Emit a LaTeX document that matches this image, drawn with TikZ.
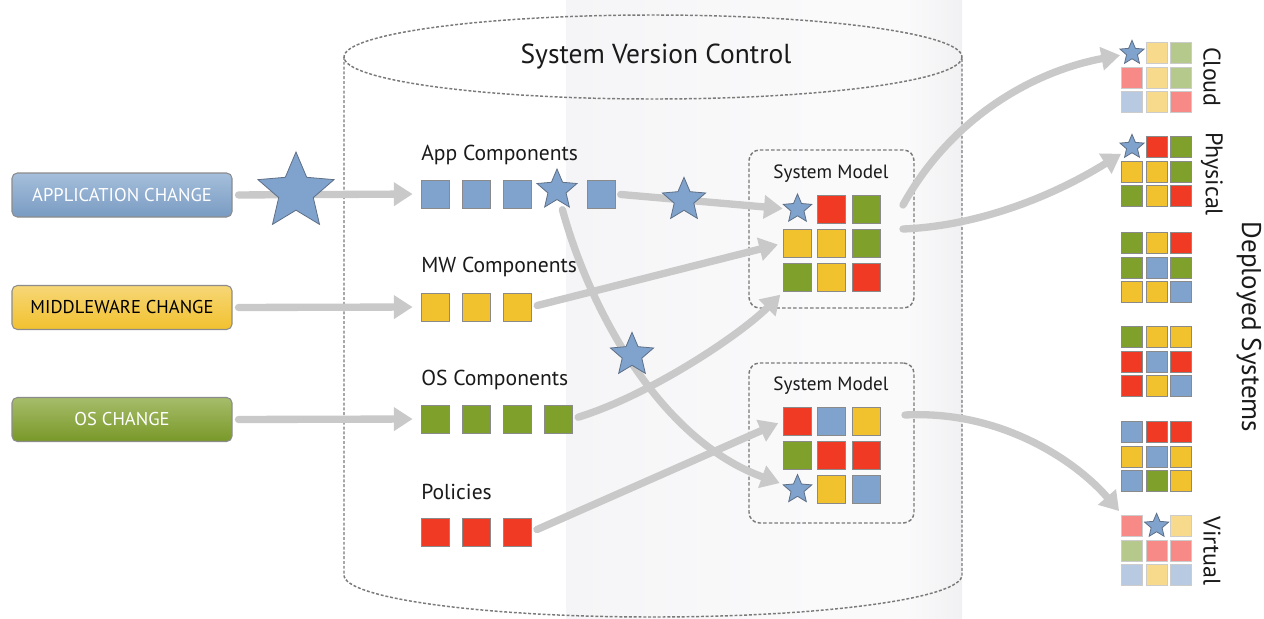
\documentclass[tikz,border=0pt]{standalone}
\usepackage{fontspec}
\setmainfont{PT Sans}
\usetikzlibrary{shapes.geometric,arrows.meta}

% palette
\definecolor{ink}{HTML}{1A1A1A}
\definecolor{cblue}{HTML}{7FA3CC}
\definecolor{cyel}{HTML}{F2C12E}
\definecolor{cgrn}{HTML}{7FA02A}
\definecolor{cred}{HTML}{F03A23}
\definecolor{lred}{HTML}{F78A86}
\definecolor{lyel}{HTML}{F7DA8C}
\definecolor{lgrn}{HTML}{B5C98C}
\definecolor{lblu}{HTML}{B8CAE2}
\definecolor{arrowgray}{HTML}{C9C9C9}
\definecolor{dashgray}{HTML}{7A7A7A}
\definecolor{stardraw}{HTML}{5E6F87}
\definecolor{celldraw}{HTML}{8A8A8A}
\definecolor{btnedge}{HTML}{8C8C8C}
\definecolor{bandA}{HTML}{F5F5F7}
\definecolor{bandB}{HTML}{FAFAFB}
\definecolor{bandC}{HTML}{F1F1F3}

\pgfdeclarehorizontalshading{cylband}{100bp}{color(0bp)=(bandA); color(25bp)=(bandA);
  color(58bp)=(bandB); color(68bp)=(bandB); color(75bp)=(bandC); color(100bp)=(bandC)}

\tikzset{
  gstar/.style={star, star points=5, star point ratio=2.2, fill=cblue, draw=stardraw,
    line width=0.6pt, inner sep=0pt},
  cell/.style={draw=celldraw, line width=0.6pt, minimum size=21pt, inner sep=0pt},
  cellstar/.style={gstar, minimum size=22.5pt},
  dcell/.style={cell, minimum size=15.75pt},
  dcellstar/.style={gstar, minimum size=19pt},
  fcell/.style={dcell, draw=black!20},
  fcellstar/.style={dcellstar},
  flow/.style={draw=arrowgray, line width=5.5pt, line cap=round,
    -{Triangle[length=14pt,width=17pt]}},
  btn/.style={rounded corners=4pt, draw=btnedge, line width=0.8pt, minimum width=165pt,
    minimum height=33pt, font=\fontsize{13.9}{15}\selectfont},
  cyl/.style={draw=dashgray, line width=1.1pt, dash pattern=on 2.2pt off 1.4pt},
  modelbox/.style={draw=dashgray, line width=1.1pt, dash pattern=on 2.6pt off 1.6pt,
    rounded corners=8pt, minimum width=123.75pt},
  complabel/.style={anchor=west, inner sep=0pt, text=ink, font=\fontsize{16.2}{18}\selectfont},
  modellabel/.style={inner sep=0pt, text=ink, font=\fontsize{14.4}{16}\selectfont},
  sidelabel/.style={rotate=-90, inner sep=0pt, text=ink, font=\fontsize{18}{20}\selectfont},
}

% 3x3 grid of cells: name, x, y of first cell centre, pitch, cell style, colours
\def\starkey{st}
\newcommand\cellgrid[6]{%
  \foreach \cc [count=\ii from 0] in {#6} {
    \pgfmathtruncatemacro\rowi{\ii/3}
    \pgfmathtruncatemacro\coli{mod(\ii,3)}
    \ifx\cc\starkey
      \node[#5star] (#1-\ii) at ({#2+\coli*#4},{#3+\rowi*#4}) {};
    \else
      \node[#5, fill=\cc] (#1-\ii) at ({#2+\coli*#4},{#3+\rowi*#4}) {};
    \fi
  }}

\begin{document}
\begin{tikzpicture}[x=0.75pt, y=-0.75pt]
\useasboundingbox (0,0) rectangle (1264,618);
\fill[white] (0,0) rectangle (1264,618);

% shaded band across the right half of the repository
\shade[shading=cylband] (566,0) rectangle (962,618);

% repository cylinder
\draw[cyl] (653,57) ellipse [x radius=309, y radius=42];
\draw[cyl] (344,57) -- (344,575)
  .. controls (344,598.2) and (482.3,617) .. (653,617)
  .. controls (823.7,617) and (962,598.2) .. (962,575) -- (962,57);
\node[inner sep=0pt, text=ink, font=\fontsize{20.6}{22}\selectfont] (title) at (656,57) {System Version Control};

% change requests
\node[btn, top color=cblue!70!white, bottom color=cblue!95!black, text=white] (btnApp) at (122,195) {APPLICATION CHANGE};
\node[btn, top color=cyel!65!white, bottom color=cyel, text=black] (btnMW) at (122,307.5) {MIDDLEWARE CHANGE};
\node[btn, top color=cgrn!70!white, bottom color=cgrn!95!black, text=white] (btnOS) at (122,419.5) {OS CHANGE};

% component rows
\node[complabel] (lblApp) at (421,155) {App Components};
\node[complabel] (lblMW) at (421,267) {MW Components};
\node[complabel] (lblOS) at (421,380) {OS Components};
\node[complabel] (lblPol) at (421,492) {Policies};

\node[cell, fill=cblue] (app-1) at (435,194) {};
\node[cell, fill=cblue] (app-2) at (476,194) {};
\node[cell, fill=cblue] (app-3) at (517,194) {};
\node[cell, fill=cblue] (app-5) at (601,194) {};
\node[cell, fill=cyel] (mw-1) at (435,307) {};
\node[cell, fill=cyel] (mw-2) at (476,307) {};
\node[cell, fill=cyel] (mw-3) at (517,307) {};
\node[cell, fill=cgrn] (os-1) at (435,419) {};
\node[cell, fill=cgrn] (os-2) at (476,419) {};
\node[cell, fill=cgrn] (os-3) at (517,419) {};
\node[cell, fill=cgrn] (os-4) at (558,419) {};
\node[cell, fill=cred] (pol-1) at (435,532) {};
\node[cell, fill=cred] (pol-2) at (476,532) {};
\node[cell, fill=cred] (pol-3) at (517,532) {};

% system models
\node[modelbox, minimum height=118.5pt] (box1) at (831.5,229) {};
\node[modelbox, minimum height=120pt] (box2) at (831.5,443) {};
\node[modellabel] (lblBox1) at (831,174) {System Model};
\node[modellabel] (lblBox2) at (831,386) {System Model};
\cellgrid{b1}{797.5}{209}{34.25}{cell}{st,cred,cgrn,cyel,cyel,cgrn,cgrn,cyel,cred}
\cellgrid{b2}{797.5}{421}{34.25}{cell}{cred,cblue,cyel,cgrn,cred,cred,st,cyel,cblue}

% deployed systems
\cellgrid{cl}{1132}{53}{24.6}{fcell}{st,lyel,lgrn,lred,lyel,lgrn,lblu,lyel,lred}
\cellgrid{ph}{1132}{147}{24.6}{dcell}{st,cred,cgrn,cyel,cyel,cgrn,cgrn,cyel,cred}
\cellgrid{d3}{1132}{243}{24.6}{dcell}{cgrn,cyel,cred,cgrn,cblue,cgrn,cyel,cyel,cblue}
\cellgrid{d4}{1132}{337}{24.6}{dcell}{cgrn,cyel,cyel,cred,cblue,cred,cred,cyel,cblue}
\cellgrid{d5}{1132}{432}{24.6}{dcell}{cblue,cred,cred,cyel,cblue,cyel,cblue,cgrn,cyel}
\cellgrid{vi}{1132}{526}{24.6}{fcell}{lred,st,lyel,lgrn,lred,lred,lblu,lyel,lblu}

\node[sidelabel] (lblCloud) at (1212,77) {Cloud};
\node[sidelabel] (lblPhys) at (1212,174) {Physical};
\node[sidelabel] (lblVirt) at (1212,551) {Virtual};
\node[sidelabel, font=\fontsize{20.3}{22}\selectfont] (lblDep) at (1249,327) {Deployed Systems};

% flows into the repository
\draw[flow, shorten <=4.5pt, shorten >=6pt] (btnApp.east) -- (app-1.west);
\draw[flow, shorten <=4.5pt, shorten >=6pt] (btnMW.east) -- (mw-1.west);
\draw[flow, shorten <=4.5pt, shorten >=6pt] (btnOS.east) -- (os-1.west);

% flows into the system models
\node[gstar, minimum size=31.5pt] (appStar) at (557,190) {};
\draw[flow, shorten <=4pt, shorten >=4pt] (app-5.east) -- (b1-0.west);
\draw[flow, shorten <=4.5pt, shorten >=4pt] (mw-3.east) -- (b1-3.west);
\draw[flow, shorten <=4.5pt, shorten >=3pt] (os-4.east) .. controls (650,395) and (740,335) .. (b1-6.south west);
\draw[flow, shorten <=4.5pt, shorten >=4pt] (pol-3.east) -- (b2-0.west);
\draw[flow, shorten <=6pt, shorten >=3pt] (appStar) .. controls (590,310) and (660,440) .. (b2-6);

% stars travelling with the changes
\node[gstar, minimum size=60pt] (bigStar) at (296,192) {};
\node[gstar, minimum size=34pt] (starA) at (684,200) {};
\node[gstar, minimum size=34pt] (starB) at (632,355) {};

% deployments
\coordinate (m1a) at (903,205);
\coordinate (m1b) at (903,229);
\coordinate (m2a) at (905,415);
\draw[flow, shorten >=4pt] (m1a) .. controls (950,120) and (1030,72) .. (cl-0);
\draw[flow, shorten >=4pt] (m1b) .. controls (980,226) and (1055,195) .. (ph-0);
\draw[flow, shorten >=4pt] (m2a) .. controls (1000,410) and (1075,460) .. (vi-0);
\end{tikzpicture}
\end{document}
